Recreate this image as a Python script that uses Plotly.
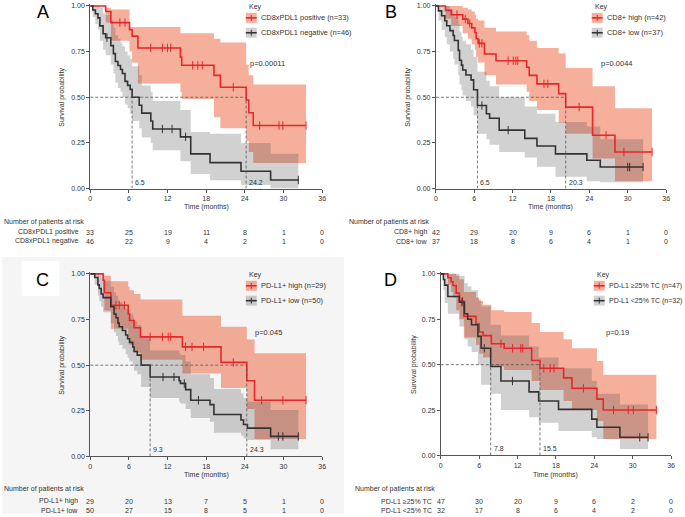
import plotly.graph_objects as go

# ---------------- data ----------------
TICKS = [0, 6, 12, 18, 24, 30, 36]

# A: CD8xPDL1 positive / negative
A_pos_t = [0, 2.4, 3.2, 6.1, 6.5, 7.4, 14.0, 14.2, 19.2, 20.2, 24.2, 24.6, 25.3]
A_pos_s = [1, 0.97, 0.909, 0.87, 0.835, 0.77, 0.72, 0.675, 0.62, 0.555, 0.485, 0.415, 0.345]
A_pos_hi = [1, 0.99, 0.98, 0.885, 0.885, 0.885, 0.85, 0.85, 0.82, 0.80, 0.68, 0.62, 0.57]
A_pos_lo = [1, 0.91, 0.81, 0.75, 0.69, 0.575, 0.53, 0.49, 0.39, 0.33, 0.26, 0.20, 0.14]
A_pos_end = 33.5
A_pos_cens = [4.6, 5.4, 9.4, 11.2, 12.0, 12.5, 15.9, 16.7, 17.4, 22.2, 26.3, 29.3, 29.9, 33.5]
A_pos_risk = [33, 25, 19, 11, 8, 1, 0]

A_neg_t = [0, 0.4, 0.8, 1.2, 1.5, 2.0, 2.4, 3.2, 3.6, 3.9, 4.3, 4.7, 5.0, 5.4, 5.8, 6.2, 6.5,
           7.6, 8.0, 9.4, 9.7, 14.0, 15.6, 18.6, 23.4, 28.0]
A_neg_s = [1, 0.978, 0.957, 0.935, 0.891, 0.848, 0.826, 0.783, 0.739, 0.696, 0.674, 0.652, 0.63,
           0.587, 0.565, 0.543, 0.5, 0.456, 0.413, 0.37, 0.326, 0.283, 0.19, 0.142, 0.095, 0.047]
A_neg_hi = [1, 1, 1, 1, 0.99, 0.96, 0.95, 0.92, 0.88, 0.84, 0.82, 0.80, 0.78, 0.75, 0.73, 0.71,
            0.67, 0.62, 0.565, 0.53, 0.48, 0.43, 0.31, 0.30, 0.25, 0.19]
A_neg_lo = [1, 0.94, 0.90, 0.87, 0.81, 0.76, 0.73, 0.68, 0.63, 0.58, 0.55, 0.53, 0.50, 0.46, 0.44,
            0.41, 0.37, 0.33, 0.28, 0.25, 0.21, 0.15, 0.08, 0.045, 0.02, 0.0]
A_neg_end = 32.3
A_neg_cens = [2.6, 11.2, 12.7, 14.8, 32.3]
A_neg_risk = [46, 22, 9, 4, 2, 1, 0]

# B: CD8+ high / low
B_hi_t = [0, 1.5, 2.4, 4.2, 5.0, 5.6, 6.1, 6.3, 6.6, 7.6, 9.4, 14.2, 14.6, 15.8, 19.2, 20.3, 24.5, 28.0]
B_hi_s = [1, 0.976, 0.952, 0.928, 0.904, 0.88, 0.855, 0.82, 0.795, 0.737, 0.70, 0.664, 0.62, 0.573,
          0.52, 0.446, 0.292, 0.20]
B_hi_hi = [1, 1, 1, 0.99, 0.98, 0.97, 0.95, 0.93, 0.92, 0.88, 0.86, 0.84, 0.81, 0.77, 0.74, 0.66, 0.56, 0.44]
B_hi_lo = [1, 0.93, 0.89, 0.85, 0.82, 0.79, 0.76, 0.72, 0.69, 0.62, 0.57, 0.53, 0.48, 0.43, 0.36, 0.30, 0.165, 0.04]
B_hi_end = 33.8
B_hi_cens = [3.3, 4.6, 5.3, 6.8, 7.2, 11.3, 12.1, 12.5, 12.8, 16.9, 17.5, 22.4, 26.6, 29.4, 33.8]
B_hi_risk = [42, 29, 20, 9, 6, 1, 0]

B_lo_t = [0, 0.4, 0.9, 1.4, 1.7, 2.2, 2.7, 2.9, 3.5, 3.7, 4.0, 4.2, 4.7, 5.5, 5.9, 6.5, 7.9, 8.4,
          9.9, 13.9, 15.8, 18.7, 23.6, 25.7]
B_lo_s = [1, 0.973, 0.946, 0.919, 0.892, 0.865, 0.838, 0.811, 0.757, 0.703, 0.676, 0.649, 0.622,
          0.595, 0.541, 0.455, 0.41, 0.385, 0.32, 0.275, 0.233, 0.19, 0.155, 0.118]
B_lo_hi = [1, 1, 1, 1, 1, 0.98, 0.96, 0.94, 0.90, 0.86, 0.83, 0.81, 0.79, 0.76, 0.72, 0.64, 0.59,
           0.56, 0.50, 0.45, 0.41, 0.365, 0.34, 0.27]
B_lo_lo = [1, 0.92, 0.87, 0.83, 0.79, 0.75, 0.71, 0.68, 0.62, 0.57, 0.54, 0.51, 0.48, 0.45, 0.40,
           0.30, 0.27, 0.24, 0.20, 0.17, 0.12, 0.065, 0.04, 0.035]
B_lo_end = 32.4
B_lo_cens = [7.2, 11.3, 30.0, 30.3, 32.4]
B_lo_risk = [37, 18, 8, 6, 4, 1, 0]

# C: PD-L1+ high / low
C_hi_t = [0, 2.0, 2.2, 3.2, 5.9, 6.1, 6.8, 7.8, 14.3, 20.3, 24.3, 25.5]
C_hi_s = [1, 0.965, 0.897, 0.828, 0.78, 0.745, 0.705, 0.655, 0.60, 0.515, 0.415, 0.308]
C_hi_hi = [1, 1, 0.99, 0.96, 0.93, 0.91, 0.89, 0.86, 0.77, 0.71, 0.64, 0.565]
C_hi_lo = [1, 0.90, 0.80, 0.70, 0.65, 0.61, 0.57, 0.53, 0.455, 0.375, 0.26, 0.095]
C_hi_end = 33.5
C_hi_cens = [4.0, 4.5, 5.3, 9.3, 11.2, 12.1, 12.5, 14.8, 15.8, 17.6, 22.2, 26.6, 29.9, 33.5]
C_hi_risk = [29, 20, 13, 7, 5, 1, 0]

C_lo_t = [0, 0.7, 1.2, 1.4, 1.7, 2.0, 3.2, 3.7, 4.0, 4.3, 4.5, 5.0, 5.5, 5.8, 6.1, 6.6, 6.8, 7.3,
          7.9, 9.3, 13.8, 14.0, 14.8, 15.6, 18.6, 19.2, 23.4, 23.8, 24.4, 28.0]
C_lo_s = [1, 0.98, 0.94, 0.92, 0.89, 0.87, 0.82, 0.78, 0.76, 0.73, 0.71, 0.69, 0.665, 0.645, 0.625,
          0.60, 0.575, 0.555, 0.50, 0.435, 0.415, 0.40, 0.366, 0.308, 0.284, 0.23, 0.20, 0.175, 0.155, 0.11]
C_lo_hi = [1, 1, 1, 0.99, 0.98, 0.96, 0.93, 0.90, 0.88, 0.86, 0.845, 0.83, 0.81, 0.80, 0.78, 0.76,
           0.74, 0.72, 0.66, 0.58, 0.565, 0.555, 0.52, 0.45, 0.43, 0.37, 0.345, 0.32, 0.30, 0.255]
C_lo_lo = [1, 0.94, 0.88, 0.85, 0.82, 0.79, 0.73, 0.68, 0.66, 0.63, 0.61, 0.59, 0.56, 0.54, 0.52,
           0.50, 0.47, 0.45, 0.38, 0.32, 0.30, 0.29, 0.26, 0.21, 0.19, 0.13, 0.115, 0.10, 0.09, 0.04]
C_lo_end = 32.3
C_lo_cens = [11.3, 13.0, 14.6, 16.8, 29.2, 29.9, 32.3]
C_lo_risk = [50, 27, 15, 8, 5, 1, 0]

# D: PD-L1 >=25% TC / <25% TC
D_hi_t = [0, 1.1, 1.6, 1.9, 2.4, 2.9, 3.6, 5.5, 6.0, 6.6, 7.9, 9.9, 14.2, 15.5, 19.2, 20.5, 24.4, 25.4]
D_hi_s = [1, 0.979, 0.957, 0.936, 0.894, 0.851, 0.766, 0.723, 0.68, 0.66, 0.615, 0.59, 0.523, 0.48,
          0.427, 0.37, 0.31, 0.25]
D_hi_hi = [1, 1, 1, 1, 0.99, 0.97, 0.90, 0.87, 0.85, 0.83, 0.80, 0.79, 0.73, 0.68, 0.64, 0.59, 0.52, 0.445]
D_hi_lo = [1, 0.94, 0.90, 0.87, 0.80, 0.75, 0.65, 0.61, 0.56, 0.54, 0.49, 0.47, 0.41, 0.36, 0.30, 0.25, 0.19, 0.09]
D_hi_end = 33.7
D_hi_cens = [3.4, 9.4, 11.2, 12.5, 12.8, 16.1, 17.1, 17.7, 22.3, 27.0, 29.3, 30.1, 33.7]
D_hi_risk = [47, 30, 20, 9, 6, 2, 0]

D_lo_t = [0, 0.4, 0.6, 1.1, 2.9, 3.7, 4.2, 4.8, 5.8, 6.3, 7.8, 9.4, 13.8, 15.3, 18.4, 23.6, 24.4, 28.0]
D_lo_s = [1, 0.969, 0.938, 0.875, 0.844, 0.78, 0.75, 0.72, 0.656, 0.59, 0.49, 0.41, 0.35, 0.30,
          0.254, 0.20, 0.155, 0.10]
D_lo_hi = [1, 1, 1, 1, 0.99, 0.95, 0.93, 0.91, 0.86, 0.82, 0.72, 0.66, 0.60, 0.54, 0.48, 0.41, 0.34, 0.28]
D_lo_lo = [1, 0.91, 0.84, 0.78, 0.71, 0.64, 0.60, 0.57, 0.50, 0.39, 0.34, 0.25, 0.21, 0.18, 0.135,
           0.10, 0.09, 0.035]
D_lo_end = 32.4
D_lo_cens = [3.3, 6.8, 11.2, 31.1, 32.4]
D_lo_risk = [32, 17, 8, 6, 4, 2, 0]

# ---------------- styling ----------------
W, H = 685, 517
FONT = 'Liberation Sans, Arial, sans-serif'
RED = '#e8262b'
BLK = '#333333'
RED_FILL = 'rgba(238,95,55,0.5)'
GRY_FILL = 'rgba(70,70,75,0.25)'
TXT = '#333333'
AX = '#555555'


def fx(x):
    return x / W


def fy(y):
    return 1 - y / H


def step_at(t, s, x):
    v = s[0]
    for ti, si in zip(t, s):
        if ti <= x:
            v = si
    return v


def grp(t, s, lo, hi, end, cens, risk, color, fill, label, rlabel):
    return dict(t=t, s=s, lo=lo, hi=hi, end=end, cens=cens, risk=risk,
                color=color, fill=fill, label=label, rlabel=rlabel)


panels = [
    dict(letter='A', box=(89, 323, 5, 189), letter_xy=(41, 11), ytitle_x=61,
         key_x=246, key_y=6, key_size=7.4, p='p=0.00011', p_xy=(248, 63), medians=[6.5, 24.2],
         xtitle_y=208, risk_y=(223, 233, 242), risk_hdr_x=0, risk_lab_x=80,
         groups=[grp(A_pos_t, A_pos_s, A_pos_lo, A_pos_hi, A_pos_end, A_pos_cens, A_pos_risk,
                     RED, RED_FILL, 'CD8xPDL1 positive (n=33)', 'CD8xPDL1 positive'),
                 grp(A_neg_t, A_neg_s, A_neg_lo, A_neg_hi, A_neg_end, A_neg_cens, A_neg_risk,
                     BLK, GRY_FILL, 'CD8xPDL1 negative (n=46)', 'CD8xPDL1 negative')]),
    dict(letter='B', box=(437.7, 670, 5, 189), letter_xy=(392, 11), ytitle_x=410,
         key_x=595, key_y=6, key_size=7.4, p='p=0.0044', p_xy=(602, 63), medians=[6.5, 20.3],
         xtitle_y=208, risk_y=(223, 233, 242), risk_hdr_x=348, risk_lab_x=431,
         groups=[grp(B_hi_t, B_hi_s, B_hi_lo, B_hi_hi, B_hi_end, B_hi_cens, B_hi_risk,
                     RED, RED_FILL, 'CD8+ high (n=42)', 'CD8+ high'),
                 grp(B_lo_t, B_lo_s, B_lo_lo, B_lo_hi, B_lo_end, B_lo_cens, B_lo_risk,
                     BLK, GRY_FILL, 'CD8+ low (n=37)', 'CD8+ low')]),
    dict(letter='C', box=(89, 323, 275, 459), letter_xy=(41, 281), ytitle_x=61,
         key_x=246, key_y=276, key_size=7.4, p='p=0.045', p_xy=(253, 334), medians=[9.3, 24.3],
         xtitle_y=478, risk_y=(492, 504, 513), risk_hdr_x=0, risk_lab_x=79,
         groups=[grp(C_hi_t, C_hi_s, C_hi_lo, C_hi_hi, C_hi_end, C_hi_cens, C_hi_risk,
                     RED, RED_FILL, 'PD-L1+ high (n=29)', 'PD-L1+ high'),
                 grp(C_lo_t, C_lo_s, C_lo_lo, C_lo_hi, C_lo_end, C_lo_cens, C_lo_risk,
                     BLK, GRY_FILL, 'PD-L1+ low (n=50)', 'PD-L1+ low')]),
    dict(letter='D', box=(442.7, 675, 275, 458), letter_xy=(392, 281), ytitle_x=415,
         key_x=597, key_y=276, key_size=7, p='p=0.19', p_xy=(607, 334), medians=[7.8, 15.5],
         xtitle_y=478, risk_y=(492, 504, 513), risk_hdr_x=354, risk_lab_x=436,
         groups=[grp(D_hi_t, D_hi_s, D_hi_lo, D_hi_hi, D_hi_end, D_hi_cens, D_hi_risk,
                     RED, RED_FILL, 'PD-L1 ≥25% TC (n=47)', 'PD-L1 ≥25% TC'),
                 grp(D_lo_t, D_lo_s, D_lo_lo, D_lo_hi, D_lo_end, D_lo_cens, D_lo_risk,
                     BLK, GRY_FILL, 'PD-L1 <25% TC (n=32)', 'PD-L1 <25% TC')]),
]

fig = go.Figure()
shapes = []
annots = []

# light grey backdrop of panel C with white box behind the letter
shapes.append(dict(type='rect', xref='paper', yref='paper', x0=fx(0), x1=fx(345), y0=fy(517), y1=fy(258),
                   fillcolor='#f5f5f5', line=dict(width=0), layer='below'))
shapes.append(dict(type='rect', xref='paper', yref='paper', x0=fx(20), x1=fx(58), y0=fy(297), y1=fy(262),
                   fillcolor='white', line=dict(width=0), layer='below'))


def txt(x, y, text, size=7, xanchor='left', **kw):
    d = dict(x=x, y=y, text=text, showarrow=False, xanchor=xanchor, yanchor='middle',
             font=dict(family=FONT, size=size, color=TXT))
    d.setdefault('xref', 'paper')
    d.setdefault('yref', 'paper')
    d.update(kw)
    return d


YMAX = 1.012
for i, p in enumerate(panels, 1):
    sfx = '' if i == 1 else str(i)
    xa, ya = 'x' + sfx, 'y' + sfx
    x0, x1, ytop, ybot = p['box']
    ytop_ext = ybot - YMAX * (ybot - ytop)

    fig.layout['xaxis' + sfx] = dict(
        domain=[fx(x0), fx(x1)], range=[0, 36], anchor=ya, tickvals=TICKS,
        showline=True, linecolor=AX, linewidth=1, ticks='outside', ticklen=3, tickcolor=AX,
        tickfont=dict(family=FONT, size=7, color=TXT), showgrid=False, zeroline=False, fixedrange=True)
    fig.layout['yaxis' + sfx] = dict(
        domain=[fy(ybot), fy(ytop_ext)], range=[0, YMAX], anchor=xa,
        tickvals=[0, 0.25, 0.5, 0.75, 1.0], ticktext=['0.00', '0.25', '0.50', '0.75', '1.00'],
        showline=True, linecolor=AX, linewidth=1, ticks='outside', ticklen=3, tickcolor=AX,
        tickfont=dict(family=FONT, size=7, color=TXT), showgrid=False, zeroline=False, fixedrange=True)

    # confidence bands
    for g in p['groups']:
        xs = g['t'] + [g['end']]
        fig.add_trace(go.Scatter(x=xs, y=g['lo'] + [g['lo'][-1]], mode='lines',
                                 line=dict(width=0, shape='hv'), xaxis=xa, yaxis=ya,
                                 showlegend=False, hoverinfo='skip'))
        fig.add_trace(go.Scatter(x=xs, y=g['hi'] + [g['hi'][-1]], mode='lines',
                                 line=dict(width=0, shape='hv'), fill='tonexty', fillcolor=g['fill'],
                                 xaxis=xa, yaxis=ya, showlegend=False, hoverinfo='skip'))

    # survival curves and censor marks
    for g in p['groups']:
        xs = g['t'] + [g['end']]
        fig.add_trace(go.Scatter(x=xs, y=g['s'] + [g['s'][-1]], mode='lines',
                                 line=dict(width=1.6, shape='hv', color=g['color']),
                                 xaxis=xa, yaxis=ya, showlegend=False, name=g['label']))
        fig.add_trace(go.Scatter(x=g['cens'], y=[step_at(g['t'], g['s'], c) for c in g['cens']],
                                 mode='markers', xaxis=xa, yaxis=ya, showlegend=False, hoverinfo='skip',
                                 marker=dict(symbol='line-ns', size=6, color=g['color'],
                                             line=dict(width=1, color=g['color']))))

    # median lines
    meds = p['medians']
    dash = dict(color='#555555', width=0.8, dash='3px,2px')
    shapes.append(dict(type='line', xref=xa, yref=ya, x0=0, x1=max(meds), y0=0.5, y1=0.5, line=dash))
    for m in meds:
        shapes.append(dict(type='line', xref=xa, yref=ya, x0=m, x1=m, y0=0, y1=0.5, line=dash))
        annots.append(txt(m, 0, str(m), xref=xa, yref=ya, yanchor='bottom', xshift=1, yshift=1))

    # panel letter, axis titles, p-value
    lx, ly = p['letter_xy']
    annots.append(txt(fx(lx), fy(ly), p['letter'], xanchor='center',
                      font=dict(family=FONT, size=18, color='black')))
    annots.append(txt(fx(p['ytitle_x']), fy((ytop + ybot) / 2), 'Survival probability', xanchor='center', textangle=-90))
    annots.append(txt(fx((x0 + x1) / 2), fy(p['xtitle_y']), 'Time (months)', xanchor='center'))
    annots.append(txt(fx(p['p_xy'][0]), fy(p['p_xy'][1]), p['p'], size=7.5))

    # key
    kx, ky = p['key_x'], p['key_y']
    annots.append(txt(fx(kx + 1), fy(ky), 'Key'))
    for j, g in enumerate(p['groups']):
        yc = ky + 11 + 15 * j
        shapes.append(dict(type='rect', xref='paper', yref='paper', x0=fx(kx), x1=fx(kx + 11),
                           y0=fy(yc + 5), y1=fy(yc - 5), fillcolor=g['fill'], line=dict(width=0)))
        shapes.append(dict(type='line', xref='paper', yref='paper', x0=fx(kx), x1=fx(kx + 11),
                           y0=fy(yc), y1=fy(yc), line=dict(color=g['color'], width=1.6)))
        shapes.append(dict(type='line', xref='paper', yref='paper', x0=fx(kx + 5.5), x1=fx(kx + 5.5),
                           y0=fy(yc + 3), y1=fy(yc - 3), line=dict(color=g['color'], width=1)))
        annots.append(txt(fx(kx + 13), fy(yc), g['label'], size=p['key_size']))

    # risk table
    hy, r1, r2 = p['risk_y']
    annots.append(txt(fx(p['risk_hdr_x']), fy(hy), 'Number of patients at risk'))
    for g, ry in zip(p['groups'], (r1, r2)):
        annots.append(txt(fx(p['risk_lab_x']), fy(ry), g['rlabel'], xanchor='right'))
        for tv, n in zip(TICKS, g['risk']):
            annots.append(txt(tv, fy(ry), str(n), xref=xa, xanchor='center'))

fig.update_layout(
    width=W, height=H, margin=dict(l=0, r=0, t=0, b=0),
    paper_bgcolor='white', plot_bgcolor='rgba(0,0,0,0)',
    showlegend=False, shapes=shapes, annotations=annots,
    font=dict(family=FONT, size=7, color=TXT),
)

# page body margin would push the figure 8px off the window
fig.write_html("out.html", config={'displayModeBar': False},
               post_script="document.body.style.margin='0';document.body.style.overflow='hidden';")
